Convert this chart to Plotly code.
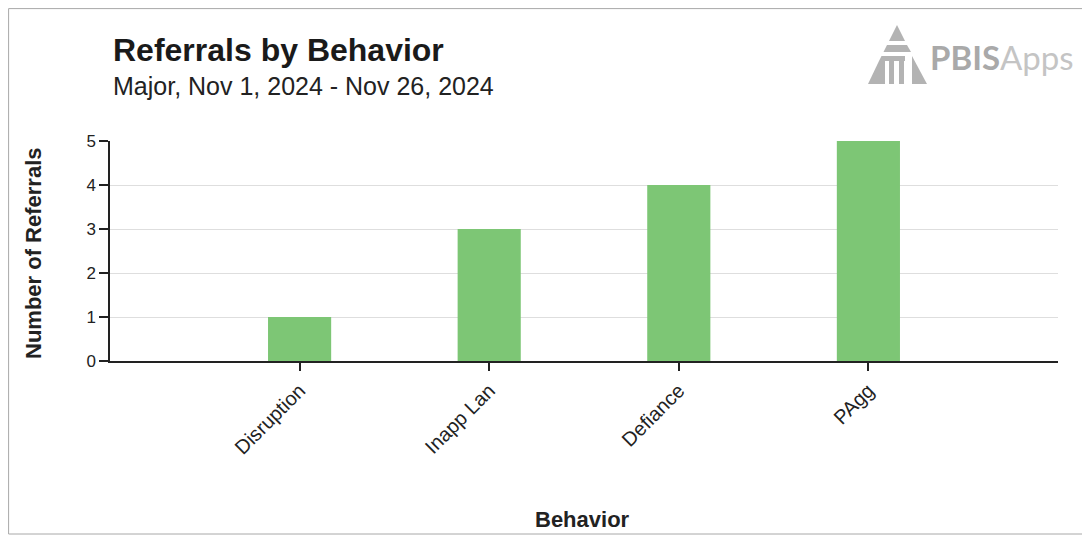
import plotly.graph_objects as go

categories = ["Disruption", "Inapp Lan", "Defiance", "PAgg"]
referrals = [1, 3, 4, 5]
y_ticks = [0, 1, 2, 3, 4, 5]

title_text = "Referrals by Behavior"
subtitle_text = "Major, Nov 1, 2024 - Nov 26, 2024"
x_title = "Behavior"
y_title = "Number of Referrals"

# page body offset (browser default margin)
OFF = 8
SW, SH = 1090, 536
W, H = SW - OFF, SH - OFF
# plot area in screen pixels
SL, SR, ST, SB = 110, 1058, 141, 361
L, T = SL - OFF, ST - OFF
R = W - (SR - OFF)
B = H - (SB - OFF)
PW = SR - SL
PH = SB - ST


def px(x):
    return (x - SL) / PW


def py(y):
    return (SB - y) / PH


def poly(points, color):
    d = "M " + " L ".join(f"{px(a):.5f},{py(b):.5f}" for a, b in points) + " Z"
    return dict(type="path", xref="paper", yref="paper", path=d,
                fillcolor=color, line=dict(width=0), layer="above")


fig = go.Figure()
fig.add_trace(go.Bar(
    x=categories, y=referrals, width=0.333,
    marker=dict(color="#7dc675", line=dict(width=0)),
    hoverinfo="x+y",
))

font = "Liberation Sans, Arial, sans-serif"

icon_color = "#b3b3b3"
shapes = [
    poly([(897, 25), (905, 41), (889, 41)], icon_color),
    poly([(887, 45), (907, 45), (911, 52), (883.5, 52)], icon_color),
    poly([(881.5, 56), (905, 56), (905, 61), (879, 61)], icon_color),
    poly([(879, 61), (885, 61), (885, 84), (868, 84)], icon_color),
    poly([(889, 61), (894, 61), (894, 84), (889, 84)], icon_color),
    poly([(899, 61), (904, 61), (904, 84), (899, 84)], icon_color),
    poly([(912, 56), (927, 84), (912, 84)], icon_color),
    dict(type="rect", xref="paper", yref="paper",
         x0=px(8.6), x1=px(1088), y0=py(534), y1=py(8.6),
         line=dict(color="#a8a8a8", width=1), layer="below"),
]

annotations = [
    dict(text=f"<b>{title_text}</b>", x=px(111), y=py(50), xref="paper", yref="paper",
         xanchor="left", yanchor="middle", showarrow=False,
         font=dict(family=font, size=32, color="#1a1a1a")),
    dict(text=subtitle_text, x=px(111), y=py(86), xref="paper", yref="paper",
         xanchor="left", yanchor="middle", showarrow=False,
         font=dict(family=font, size=25, color="#222222")),
    dict(text='<b><span style="color:#a9a9a9">PBIS</span></b><span style="color:#c4c4c4">Apps</span>',
         x=px(928), y=py(57), xref="paper", yref="paper",
         xanchor="left", yanchor="middle", showarrow=False,
         font=dict(family="Lato, sans-serif", size=33, color="#b0b0b0")),
    dict(text=f"<b>{y_title}</b>", x=px(33), y=py(253), xref="paper", yref="paper",
         xanchor="center", yanchor="middle", showarrow=False, textangle=-90,
         font=dict(family=font, size=22, color="#222222")),
    dict(text=f"<b>{x_title}</b>", x=px(582), y=py(519), xref="paper", yref="paper",
         xanchor="center", yanchor="middle", showarrow=False,
         font=dict(family=font, size=22, color="#222222")),
]

fig.update_layout(
    width=W, height=H,
    margin=dict(l=L, r=R, t=T, b=B, pad=0),
    paper_bgcolor="white", plot_bgcolor="white",
    showlegend=False,
    shapes=shapes,
    annotations=annotations,
)

fig.update_xaxes(
    type="category", range=[-1, 4],
    tickangle=-45, tickfont=dict(family=font, size=20, color="#222222"),
    ticks="outside", ticklen=8, tickwidth=1.5, tickcolor="#222222",
    showline=True, linecolor="#222222", linewidth=2,
    showgrid=False, zeroline=False,
)
fig.update_yaxes(
    range=[0, 5], tickvals=y_ticks,
    tickfont=dict(family=font, size=17, color="#222222"),
    ticks="outside", ticklen=9, tickwidth=1.5, tickcolor="#222222",
    showline=True, linecolor="#222222", linewidth=1.5,
    showgrid=True, gridcolor="#dedede", gridwidth=1,
    zeroline=False,
)

fig.write_html("out.html")
